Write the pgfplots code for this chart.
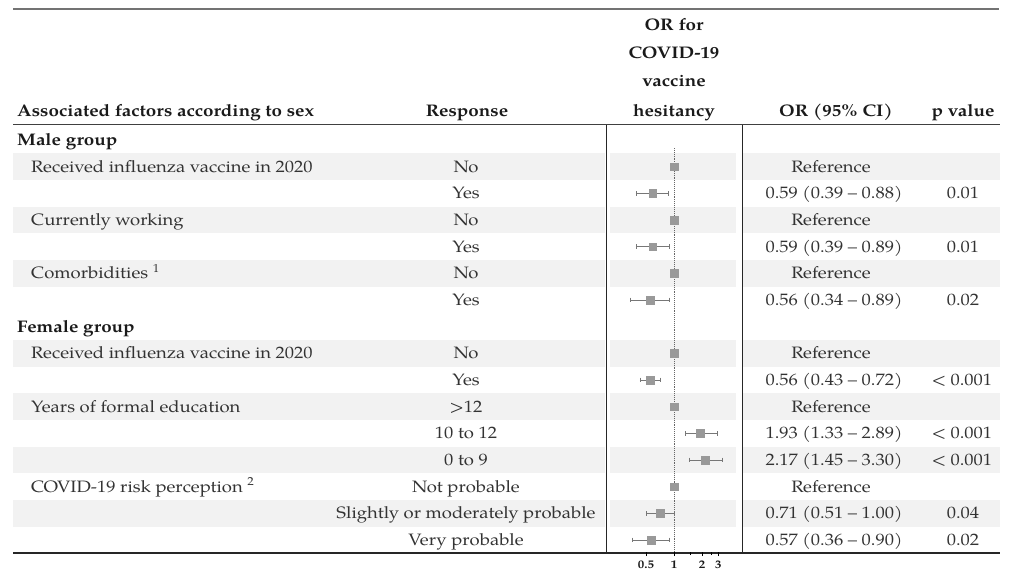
\documentclass[border=0pt]{standalone}
\usepackage{fontspec}
\setmainfont{texgyrepagella}[Extension=.otf, UprightFont=*-regular, BoldFont=*-bold, ItalicFont=*-italic, BoldItalicFont=*-bolditalic, FakeStretch=1.12]
\usepackage{pgfplots}
\usepackage{pgfplotstable}
\pgfplotsset{compat=1.18}
\definecolor{txt}{HTML}{333333}
\definecolor{hdr}{HTML}{1A1A1A}
\definecolor{band}{HTML}{F2F2F2}
\definecolor{sq}{HTML}{999999}
\definecolor{ci}{HTML}{777777}

% OR and 95% CI, one line per response
\pgfplotstableread{
row or lo hi
1 1 1 1
2 0.59 0.39 0.88
3 1 1 1
4 0.59 0.39 0.89
5 1 1 1
6 0.56 0.34 0.89
8 1 1 1
9 0.56 0.43 0.72
10 1 1 1
11 1.93 1.33 2.89
12 2.17 1.45 3.30
13 1 1 1
14 0.71 0.51 1.00
15 0.57 0.36 0.90
}\ortable

\newcommand\rowy[1]{-(140+26.667*#1)*1pt}
\newcommand\cell[4]{\node[#1] at (#2pt,{\rowy{#3}}) {#4};}
\newcommand\band[1]{%
  \fill[band] (13pt,{\rowy{#1}+13.3pt}) rectangle (605pt,{\rowy{#1}-13.3pt});
  \fill[band] (610pt,{\rowy{#1}+13.3pt}) rectangle (736pt,{\rowy{#1}-13.3pt});
  \fill[band] (743pt,{\rowy{#1}+13.3pt}) rectangle (1000pt,{\rowy{#1}-13.3pt});}
\newcommand\ciline[3]{\addplot[ci, line width=0.75pt, mark=|, mark size=2.3pt, mark options={ci, line width=0.75pt}] coordinates {(#1,-#3) (#2,-#3)};}

\begin{document}
\begin{tikzpicture}[every node/.style={font=\fontsize{16.5}{19}\selectfont, text=txt, inner sep=0pt, yshift=-3pt}]
\path[use as bounding box] (0,0) rectangle (1009pt,-571pt);

% shaded rows
\band{1}\band{3}\band{5}\band{8}\band{10}\band{12}\band{14}

% rules
\draw[line width=2pt, black!55] (13pt,-9pt) -- (999pt,-9pt);
\draw[line width=1.6pt, black!75] (13pt,-124.5pt) -- (1000pt,-124.5pt);
\draw[line width=2pt, black!85] (13pt,-553pt) -- (1000pt,-553pt);

% header
\begin{scope}[every node/.append style={font=\fontsize{16.8}{19}\selectfont\bfseries, text=hdr}]
\node[anchor=mid west] at (17pt,-111pt) {Associated factors according to sex};
\node[anchor=mid] at (467pt,-111pt) {Response};
\node[anchor=mid] at (674pt,-25pt) {OR for};
\node[anchor=mid] at (674pt,-53pt) {COVID-19};
\node[anchor=mid] at (674pt,-81pt) {vaccine};
\node[anchor=mid] at (674pt,-111pt) {hesitancy};
\node[anchor=mid] at (836pt,-111pt) {OR (95\% CI)};
\node[anchor=mid] at (963pt,-111pt) {p value};
\node[anchor=mid west] at (17pt,{\rowy{0}}) {Male group};
\node[anchor=mid west] at (17pt,{\rowy{7}}) {Female group};
\end{scope}

% factor column
\cell{anchor=mid west}{31}{1}{Received influenza vaccine in 2020}
\cell{anchor=mid west}{31}{3}{Currently working}
\cell{anchor=mid west}{31}{5}{Comorbidities \textsuperscript{1}}
\cell{anchor=mid west}{31}{8}{Received influenza vaccine in 2020}
\cell{anchor=mid west}{31}{10}{Years of formal education}
\cell{anchor=mid west}{31}{13}{COVID-19 risk perception \textsuperscript{2}}

% response column
\cell{anchor=mid}{466}{1}{No}
\cell{anchor=mid}{466}{2}{Yes}
\cell{anchor=mid}{466}{3}{No}
\cell{anchor=mid}{466}{4}{Yes}
\cell{anchor=mid}{466}{5}{No}
\cell{anchor=mid}{466}{6}{Yes}
\cell{anchor=mid}{466}{8}{No}
\cell{anchor=mid}{466}{9}{Yes}
\cell{anchor=mid}{466}{10}{>12}
\cell{anchor=mid}{466}{11}{10 to 12}
\cell{anchor=mid}{466}{12}{0 to 9}
\cell{anchor=mid}{466}{13}{Not probable}
\cell{anchor=mid}{466}{14}{Slightly or moderately probable}
\cell{anchor=mid}{466}{15}{Very probable}

% OR column
\cell{anchor=mid}{831}{1}{Reference}
\cell{anchor=mid}{834}{2}{0.59 (0.39 -- 0.88)}
\cell{anchor=mid}{831}{3}{Reference}
\cell{anchor=mid}{834}{4}{0.59 (0.39 -- 0.89)}
\cell{anchor=mid}{831}{5}{Reference}
\cell{anchor=mid}{834}{6}{0.56 (0.34 -- 0.89)}
\cell{anchor=mid}{831}{8}{Reference}
\cell{anchor=mid}{834}{9}{0.56 (0.43 -- 0.72)}
\cell{anchor=mid}{831}{10}{Reference}
\cell{anchor=mid}{834}{11}{1.93 (1.33 -- 2.89)}
\cell{anchor=mid}{834}{12}{2.17 (1.45 -- 3.30)}
\cell{anchor=mid}{831}{13}{Reference}
\cell{anchor=mid}{834}{14}{0.71 (0.51 -- 1.00)}
\cell{anchor=mid}{834}{15}{0.57 (0.36 -- 0.90)}

% p column
\cell{anchor=mid}{963}{2}{0.01}
\cell{anchor=mid}{963}{4}{0.01}
\cell{anchor=mid}{963}{6}{0.02}
\cell{anchor=mid}{962}{9}{< 0.001}
\cell{anchor=mid}{962}{11}{< 0.001}
\cell{anchor=mid}{962}{12}{< 0.001}
\cell{anchor=mid}{963}{14}{0.04}
\cell{anchor=mid}{963}{15}{0.02}

\begin{axis}[
  at={(606pt,-552pt)}, anchor=south west,
  scale only axis, width=136pt, height=427pt,
  xmode=log, xmin=0.186, xmax=5.38,
  ymin=-15.45, ymax=0.5625,
  axis line style={draw=none},
  ytick=\empty,
  xtick={0.5,1,2,3}, xticklabels={0.5,1,2,3},
  minor xtick={1.5,2.5},
  xtick pos=bottom, tick align=outside,
  major tick length=4pt, minor tick length=3pt,
  every tick/.style={black, line width=0.9pt},
  xticklabel style={font=\fontsize{11.5}{12}\selectfont\bfseries, text=hdr, inner sep=1pt, yshift=-1pt},
  /pgf/number format/assume math mode=true,
  clip=false,
]
\draw[black!85, line width=1pt] (rel axis cs:0,0) -- (rel axis cs:0,1);
\draw[black!85, line width=1pt] (rel axis cs:1,0) -- (rel axis cs:1,1);
\draw[black!60, densely dotted, line width=0.9pt] (axis cs:1,-0.3) -- (axis cs:1,-15.45);
\ciline{0.39}{0.88}{2}
\ciline{0.39}{0.89}{4}
\ciline{0.34}{0.89}{6}
\ciline{0.43}{0.72}{9}
\ciline{1.33}{2.89}{11}
\ciline{1.45}{3.30}{12}
\ciline{0.51}{1.00}{14}
\ciline{0.36}{0.90}{15}
\addplot[only marks, mark=square*, mark size=3.9pt, mark options={fill=sq, draw=sq}]
  table[x=or, y expr=-\thisrow{row}] {\ortable};
\end{axis}
\end{tikzpicture}
\end{document}
